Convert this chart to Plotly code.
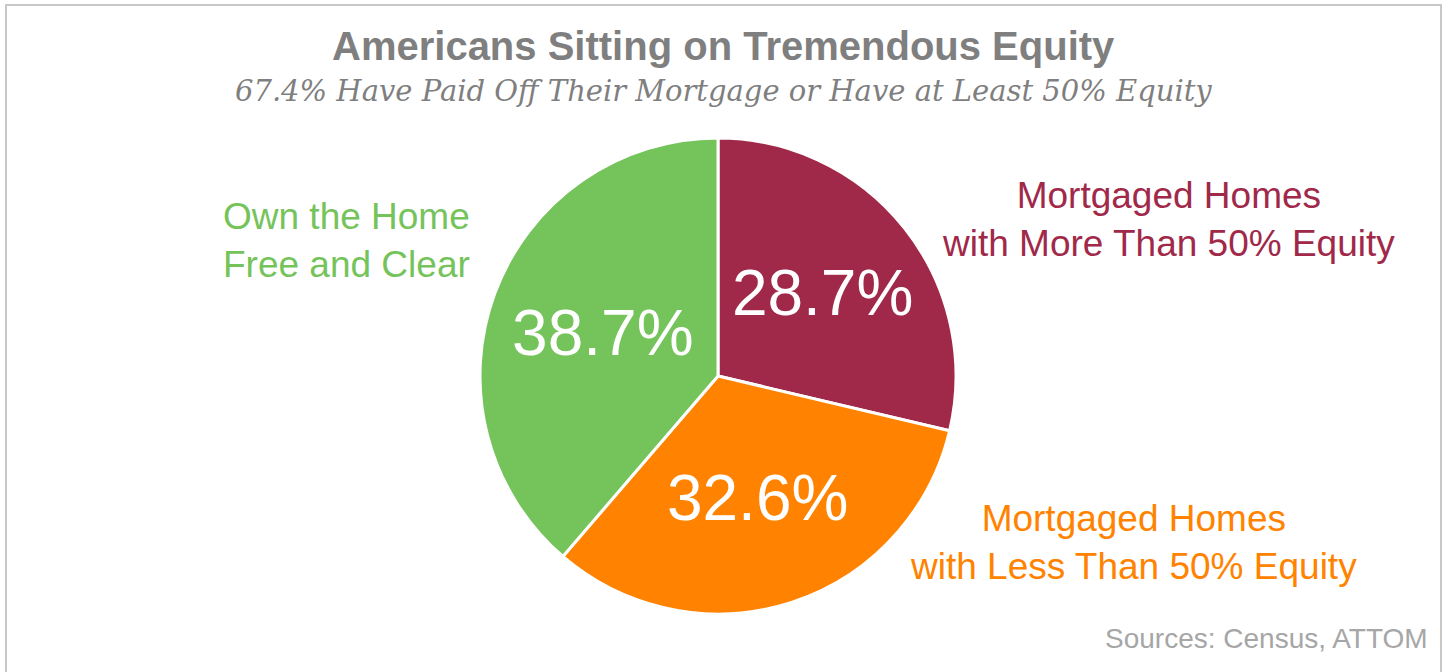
import plotly.graph_objects as go

W, H = 1449, 672

categories = ["Mortgaged Homes<br>with More Than 50% Equity",
              "Mortgaged Homes<br>with Less Than 50% Equity",
              "Own the Home<br>Free and Clear"]
values = [28.7, 32.6, 38.7]
colors = ["#A0294A", "#FF8300", "#75C35B"]

title_text = "Americans Sitting on Tremendous Equity"
subtitle_text = "67.4% Have Paid Off Their Mortgage or Have at Least 50% Equity"
source_text = "Sources: Census, ATTOM"

# pie geometry (pixels)
cx, cy, r = 718, 376, 238

fig = go.Figure(go.Pie(
    labels=categories,
    values=values,
    sort=False,
    direction="clockwise",
    rotation=0,
    marker=dict(colors=colors, line=dict(color="white", width=3)),
    texttemplate="%{value}%",
    textposition="inside",
    insidetextorientation="horizontal",
    insidetextfont=dict(family="Liberation Sans, Arial", size=64, color="white"),
    showlegend=False,
    hoverinfo="label+value",
    domain=dict(x=[(cx - r) / W, (cx + r) / W],
                y=[(H - cy - r) / H, (H - cy + r) / H]),
))

label_pos = [(1168, 220), (1133, 542), (346, 240)]
annotations = []
for cat, col, (lx, ly) in zip(categories, colors, label_pos):
    annotations.append(dict(
        text=cat, x=lx / W, y=1 - ly / H, xref="paper", yref="paper",
        xanchor="center", yanchor="middle", showarrow=False, align="center",
        font=dict(family="Liberation Sans, Arial", size=37, color=col)))

annotations.append(dict(
    text="<b>" + title_text + "</b>", x=723 / W, y=1 - 46 / H, xref="paper", yref="paper",
    xanchor="center", yanchor="middle", showarrow=False,
    font=dict(family="Liberation Sans, Arial", size=40, color="#7F7F7F")))
annotations.append(dict(
    text="<i>" + subtitle_text + "</i>", x=723 / W, y=1 - 91 / H, xref="paper", yref="paper",
    xanchor="center", yanchor="middle", showarrow=False,
    font=dict(family="DejaVu Serif", size=29, color="#7F7F7F")))
annotations.append(dict(
    text=source_text, x=1430 / W, y=1 - 638 / H, xref="paper", yref="paper",
    xanchor="right", yanchor="middle", showarrow=False,
    font=dict(family="Liberation Sans, Arial", size=28, color="#A6A6A6")))

fig.update_layout(
    width=W, height=H,
    margin=dict(l=0, r=0, t=0, b=0),
    paper_bgcolor="white", plot_bgcolor="white",
    annotations=annotations,
    shapes=[dict(type="rect", xref="paper", yref="paper",
                 x0=6 / W, x1=1441 / W, y0=-0.2, y1=1 - 5 / H,
                 line=dict(color="#C8C8C8", width=2), fillcolor="rgba(0,0,0,0)")],
)

fig.write_html("out.html")
